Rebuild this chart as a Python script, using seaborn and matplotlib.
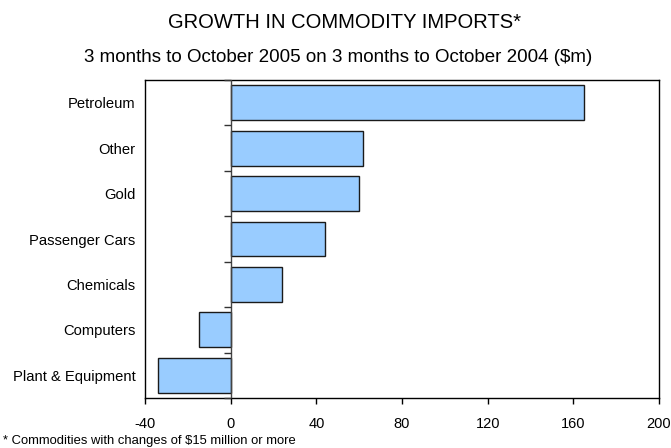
import numpy as np
import pandas as pd
import matplotlib
matplotlib.use("Agg")
import matplotlib.pyplot as plt
import matplotlib.lines as mlines
import seaborn as sns

# Growth in commodity imports, $m
commodities = ["Petroleum", "Other", "Gold", "Passenger Cars", "Chemicals",
               "Computers", "Plant & Equipment"]
growth = [165, 62, 60, 44, 24, -15, -34]
x_ticks = [-40, 0, 40, 80, 120, 160, 200]

sns.set_theme(style="white")
plt.rcParams["font.family"] = ["Liberation Sans", "DejaVu Sans"]

df = pd.DataFrame({"commodity": commodities, "growth": growth})

fig = plt.figure(figsize=(6.71, 4.48), dpi=100)
ax = fig.add_axes([145 / 671, 1 - 398 / 448, (659 - 145) / 671, (398 - 80) / 448])

sns.barplot(data=df, x="growth", y="commodity", orient="h", ax=ax,
            color="#99CCFF", saturation=1, width=0.77,
            edgecolor="#1a1a1a", linewidth=1.0)

ax.set_xlim(x_ticks[0], x_ticks[-1])
ax.set_ylim(len(commodities) - 0.5, -0.5)
ax.set_xticks(x_ticks)
ax.set_xticklabels([str(v) for v in x_ticks])
ax.set_xlabel("")
ax.set_ylabel("")

# zero line with category separators
ax.axvline(0, color="#444444", linewidth=1.0, zorder=3)
bounds = np.arange(len(commodities) + 1) - 0.5
ax.plot(np.zeros(len(bounds)), bounds, linestyle="", marker=mlines.TICKLEFT,
        markersize=5, markeredgewidth=1.0, color="#333333", zorder=3,
        clip_on=False)

for s in ax.spines.values():
    s.set_visible(True)
    s.set_color("black")
    s.set_linewidth(1.0)

ax.tick_params(axis="x", direction="out", length=4, width=1, color="black",
               bottom=True, labelsize=10.5, pad=10, labelcolor="black")
ax.tick_params(axis="y", length=0, labelsize=10.6, pad=7, labelcolor="black")

fig.text(344 / 671, 1 - 22.5 / 448, "GROWTH IN COMMODITY IMPORTS*",
         ha="center", va="center", fontsize=14.5, color="black")
fig.text(338 / 671, 1 - 57.5 / 448,
         "3 months to October 2005 on 3 months to October 2004 ($m)",
         ha="center", va="center", fontsize=13.5, color="black")
fig.text(3 / 671, 1 - 441 / 448,
         "* Commodities with changes of $15 million or more",
         ha="left", va="center", fontsize=9.4, color="black")

fig.savefig("out.png", dpi=100, facecolor="white")
